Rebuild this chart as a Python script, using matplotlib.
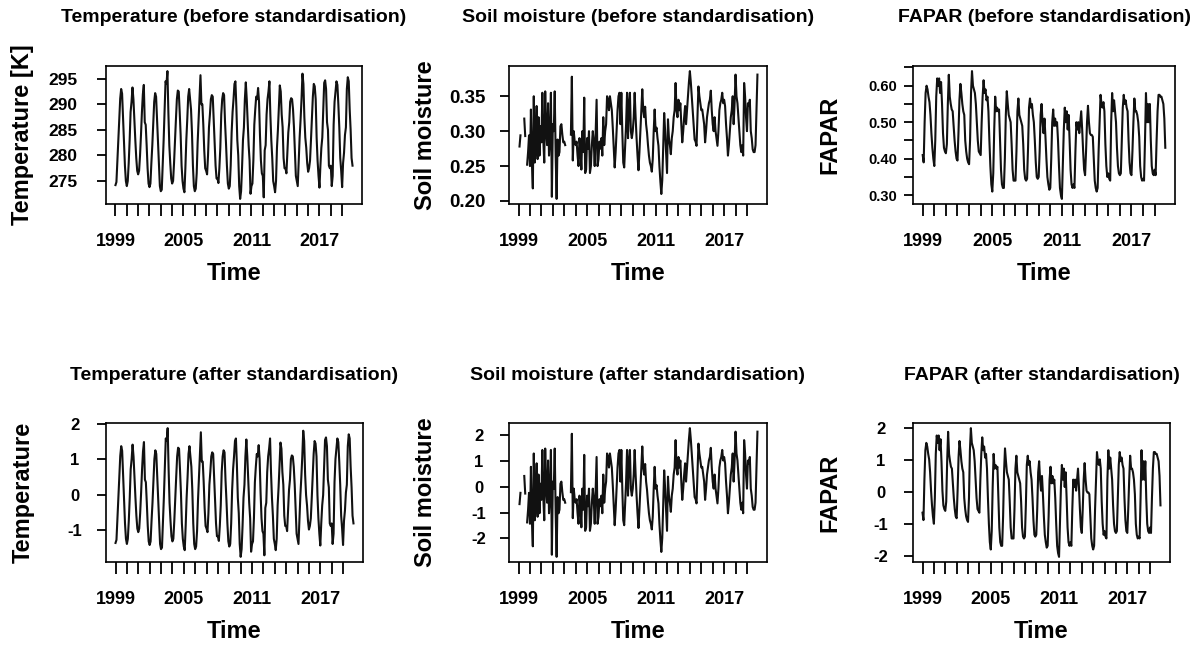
import numpy as np
import matplotlib
matplotlib.use("Agg")
import matplotlib.pyplot as plt

plt.rcParams['font.family'] = ['Liberation Sans', 'DejaVu Sans']
plt.rcParams['font.weight'] = 'bold'

##########################################################
# monthly values, Jan..Dec, one row per year 1999-2019
years = list(range(1999, 2020))
nan = np.nan

temperature = [
    [274.2, 274.8, 278.9, 282.7, 287.4, 291.1, 293.0, 292.1, 287.4, 282.7, 278.0, 275.0],
    [274.0, 275.0, 278.5, 283.0, 288.5, 290.5, 293.3, 291.0, 287.0, 283.0, 279.5, 277.0],
    [276.3, 277.0, 280.0, 284.0, 288.5, 292.0, 293.8, 286.5, 286.0, 282.0, 277.5, 274.5],
    [273.8, 274.5, 278.5, 282.0, 286.5, 290.5, 292.2, 291.5, 287.0, 282.0, 277.5, 274.0],
    [273.0, 273.3, 278.0, 283.0, 288.5, 294.5, 294.0, 296.5, 288.5, 282.0, 278.5, 275.5],
    [274.5, 275.0, 278.5, 283.0, 287.0, 291.0, 292.7, 292.5, 288.5, 284.0, 278.0, 275.0],
    [273.5, 272.8, 277.5, 283.0, 287.0, 291.5, 293.0, 291.0, 289.0, 284.5, 278.0, 274.0],
    [273.0, 273.5, 276.5, 282.5, 287.0, 292.0, 295.7, 290.0, 290.0, 286.0, 281.0, 277.5],
    [277.0, 276.3, 280.0, 285.5, 288.0, 291.0, 291.8, 291.5, 287.0, 282.5, 278.0, 275.5],
    [275.5, 274.6, 277.5, 281.5, 288.0, 291.0, 292.2, 291.8, 286.5, 282.5, 278.0, 274.5],
    [273.5, 274.0, 278.0, 284.5, 288.5, 291.0, 294.0, 294.5, 289.5, 283.0, 280.0, 274.0],
    [271.5, 273.0, 277.5, 283.0, 285.5, 291.0, 294.3, 291.0, 286.5, 282.0, 279.0, 272.5],
    [274.0, 274.5, 279.0, 286.0, 289.0, 291.5, 291.0, 293.2, 290.5, 284.0, 279.0, 276.5],
    [276.0, 271.8, 281.0, 282.0, 288.0, 291.0, 292.5, 294.5, 288.0, 283.0, 279.5, 275.0],
    [274.0, 272.8, 275.0, 281.5, 285.0, 289.5, 293.7, 292.5, 288.0, 285.5, 279.5, 277.5],
    [277.5, 276.5, 280.5, 284.5, 286.5, 290.5, 291.2, 291.0, 289.0, 285.5, 281.0, 276.0],
    [275.0, 274.0, 279.0, 283.5, 287.0, 291.0, 296.0, 294.0, 287.5, 283.5, 281.5, 278.5],
    [276.8, 277.5, 279.0, 283.0, 287.5, 291.5, 294.0, 293.5, 291.0, 283.5, 279.0, 276.0],
    [273.7, 278.0, 281.5, 283.5, 289.0, 294.2, 294.7, 293.0, 286.5, 285.0, 278.0, 277.5],
    [278.0, 274.0, 276.0, 286.0, 290.5, 292.5, 294.5, 293.8, 290.0, 285.5, 279.5, 277.0],
    [273.8, 278.5, 280.5, 284.0, 285.5, 293.0, 295.3, 294.5, 289.0, 285.0, 279.5, 278.0],
]

soil_moisture = [
    [nan, 0.278, 0.294, nan, nan, nan, 0.318, 0.293, nan, 0.252, 0.270, 0.294],
    [0.250, 0.331, 0.255, 0.218, 0.350, 0.255, 0.284, 0.336, 0.260, 0.320, 0.265, 0.307],
    [0.284, 0.355, 0.288, 0.255, 0.357, 0.300, 0.280, 0.340, 0.265, 0.290, 0.355, 0.206],
    [0.310, 0.300, 0.357, 0.265, 0.203, 0.288, 0.265, 0.270, 0.307, 0.310, 0.295, 0.284],
    [0.285, 0.280, nan, nan, nan, nan, nan, 0.295, 0.378, 0.258, 0.300, 0.285],
    [0.280, 0.285, 0.265, 0.250, 0.290, 0.275, 0.245, 0.300, 0.270, 0.348, 0.240, 0.245],
    [0.290, 0.275, 0.300, 0.240, 0.250, 0.280, 0.300, 0.285, 0.250, 0.300, 0.345, 0.250],
    [0.260, 0.285, 0.275, 0.290, 0.265, 0.320, 0.280, 0.300, 0.310, 0.350, 0.345, 0.330],
    [0.350, 0.340, 0.330, 0.305, 0.275, 0.248, 0.270, 0.300, 0.330, 0.350, 0.355, 0.310],
    [0.355, 0.300, 0.255, 0.248, 0.280, 0.310, 0.355, 0.290, 0.340, 0.355, 0.300, 0.290],
    [0.300, 0.320, 0.355, 0.320, 0.290, 0.265, 0.244, 0.270, 0.300, 0.330, 0.360, 0.330],
    [0.320, 0.335, 0.310, 0.298, 0.280, 0.265, 0.255, 0.250, 0.242, 0.260, 0.300, 0.331],
    [0.300, 0.305, 0.290, 0.279, 0.250, 0.228, 0.210, 0.230, 0.280, 0.326, 0.300, 0.270],
    [0.240, 0.317, 0.290, 0.280, 0.267, 0.290, 0.300, 0.320, 0.330, 0.369, 0.330, 0.320],
    [0.345, 0.330, 0.340, 0.310, 0.284, 0.300, 0.320, 0.336, 0.310, 0.330, 0.350, 0.370],
    [0.386, 0.370, 0.350, 0.330, 0.310, 0.288, 0.285, 0.279, 0.320, 0.364, 0.350, 0.340],
    [0.330, 0.331, 0.320, 0.310, 0.284, 0.300, 0.320, 0.330, 0.340, 0.345, 0.358, 0.330],
    [0.310, 0.300, 0.320, 0.300, 0.290, 0.279, 0.300, 0.330, 0.340, 0.345, 0.355, 0.340],
    [0.345, 0.336, 0.310, 0.290, 0.265, 0.280, 0.300, 0.320, 0.330, 0.350, 0.310, 0.340],
    [0.381, 0.350, 0.340, 0.320, 0.300, 0.280, 0.270, 0.280, 0.265, 0.369, 0.350, 0.320],
    [0.300, 0.340, 0.336, 0.345, 0.300, 0.290, 0.274, 0.270, 0.270, 0.280, 0.330, 0.381],
]

fapar = [
    [0.410, 0.390, 0.500, 0.580, 0.600, 0.590, 0.570, 0.555, 0.520, 0.470, 0.430, 0.400],
    [0.380, 0.450, 0.570, 0.620, 0.600, 0.620, 0.580, 0.610, 0.550, 0.470, 0.430, 0.420],
    [0.415, 0.440, 0.550, 0.630, 0.570, 0.550, 0.535, 0.530, 0.490, 0.450, 0.420, 0.400],
    [0.395, 0.470, 0.560, 0.605, 0.580, 0.550, 0.530, 0.520, 0.450, 0.420, 0.400, 0.390],
    [0.385, 0.450, 0.580, 0.640, 0.600, 0.590, 0.580, 0.550, 0.500, 0.450, 0.420, 0.415],
    [0.410, 0.500, 0.570, 0.615, 0.580, 0.590, 0.560, 0.570, 0.530, 0.450, 0.380, 0.330],
    [0.310, 0.360, 0.480, 0.570, 0.530, 0.540, 0.530, 0.535, 0.450, 0.370, 0.330, 0.320],
    [0.320, 0.400, 0.520, 0.585, 0.550, 0.520, 0.510, 0.500, 0.440, 0.370, 0.340, 0.340],
    [0.340, 0.420, 0.530, 0.565, 0.520, 0.510, 0.500, 0.490, 0.440, 0.370, 0.345, 0.340],
    [0.345, 0.430, 0.540, 0.565, 0.540, 0.550, 0.520, 0.500, 0.450, 0.390, 0.350, 0.345],
    [0.350, 0.420, 0.520, 0.550, 0.500, 0.470, 0.510, 0.460, 0.400, 0.350, 0.330, 0.315],
    [0.320, 0.400, 0.500, 0.535, 0.490, 0.510, 0.490, 0.500, 0.450, 0.380, 0.320, 0.300],
    [0.290, 0.380, 0.480, 0.540, 0.500, 0.530, 0.480, 0.520, 0.450, 0.370, 0.330, 0.320],
    [0.330, 0.320, 0.420, 0.500, 0.480, 0.500, 0.470, 0.500, 0.530, 0.480, 0.420, 0.370],
    [0.355, 0.420, 0.500, 0.545, 0.500, 0.470, 0.465, 0.465, 0.460, 0.400, 0.340, 0.320],
    [0.310, 0.320, 0.420, 0.500, 0.575, 0.550, 0.540, 0.555, 0.530, 0.440, 0.380, 0.350],
    [0.360, 0.345, 0.340, 0.500, 0.580, 0.530, 0.560, 0.530, 0.500, 0.430, 0.380, 0.360],
    [0.355, 0.360, 0.450, 0.540, 0.575, 0.550, 0.560, 0.540, 0.530, 0.450, 0.390, 0.360],
    [0.355, 0.420, 0.500, 0.565, 0.530, 0.530, 0.520, 0.500, 0.460, 0.380, 0.350, 0.340],
    [0.345, 0.340, 0.450, 0.580, 0.500, 0.550, 0.500, 0.550, 0.450, 0.380, 0.360, 0.355],
    [0.370, 0.355, 0.450, 0.530, 0.575, 0.575, 0.570, 0.570, 0.560, 0.550, 0.510, 0.430],
]
##########################################################
temp = np.array(temperature, dtype=float).ravel()
soil = np.array(soil_moisture, dtype=float).ravel()
fap = np.array(fapar, dtype=float).ravel()
time = years[0] + np.arange(len(temp)) / 12.0


def standardise(x):
    return (x - np.nanmean(x)) / np.nanstd(x, ddof=1)


W, H = 1197, 645
fig = plt.figure(figsize=(W / 100, H / 100), dpi=100)

# (x0, y0, x1, y1) of every plot box in pixels
boxes = [(106, 66, 362, 204), (509, 66, 767, 204), (913, 66, 1175, 204),
         (106, 423, 363, 562), (509, 423, 767, 562), (913, 423, 1170, 562)]
# y tick label size (pt) and distance of label centre from box (px), per panel
ytick_style = [(12.5, 43), (13.5, 42), (10.5, 30), (12, 31), (12, 30), (12, 32)]

panels = [
    (temp, "Temperature (before standardisation)", "Temperature [K]",
     [275, 280, 285, 290, 295], [275, 280, 285, 290, 295]),
    (soil, "Soil moisture (before standardisation)", "Soil moisture",
     [0.20, 0.25, 0.30, 0.35], [0.20, 0.25, 0.30, 0.35]),
    (fap, "FAPAR (before standardisation)", "FAPAR",
     [0.30, 0.35, 0.40, 0.45, 0.50, 0.55, 0.60, 0.65], [0.30, 0.40, 0.50, 0.60]),
    (standardise(temp), "Temperature (after standardisation)", "Temperature",
     [-1, 0, 1, 2], [-1, 0, 1, 2]),
    (standardise(soil), "Soil moisture (after standardisation)", "Soil moisture",
     [-2, -1, 0, 1, 2], [-2, -1, 0, 1, 2]),
    (standardise(fap), "FAPAR (after standardisation)", "FAPAR",
     [-2, -1, 0, 1, 2], [-2, -1, 0, 1, 2]),
]

ytick_len = 9  # px
for (x0, y0, x1, y1), (ysize, ydist), (vals, title, ylab, yt, ylab_at) in zip(boxes, ytick_style, panels):
    ax = fig.add_axes([x0 / W, 1 - y1 / H, (x1 - x0) / W, (y1 - y0) / H])
    ax.plot(time, vals, color='#111111', lw=1.5)

    # R style 4% padding
    tr = time[-1] - time[0]
    ax.set_xlim(time[0] - 0.04 * tr, time[-1] + 0.04 * tr)
    lo, hi = np.nanmin(vals), np.nanmax(vals)
    ax.set_ylim(lo - 0.04 * (hi - lo), hi + 0.04 * (hi - lo))

    ax.set_xticks(years)
    ax.set_xticklabels([str(y) if (y - years[0]) % 6 == 0 else '' for y in years])
    ax.set_yticks(yt)
    if isinstance(yt[0], float):
        ax.set_yticklabels(['%.2f' % v if any(abs(v - a) < 1e-9 for a in ylab_at) else '' for v in yt])
    else:
        ax.set_yticklabels([str(v) for v in yt])

    ax.tick_params(axis='x', direction='out', length=8.6, width=1.3, pad=12, labelsize=13)
    ax.tick_params(axis='y', direction='out', length=ytick_len * 0.72, width=1.3,
                   pad=(ydist - ytick_len) * 0.72, labelsize=ysize)
    for lab in ax.get_xticklabels():
        lab.set_fontweight('bold')
    for lab in ax.get_yticklabels():
        lab.set_fontweight('bold')
        lab.set_horizontalalignment('center')
    for s in ax.spines.values():
        s.set_linewidth(1.2)

    cx = (x0 + x1) / 2
    cy = (y0 + y1) / 2
    fig.text(cx / W, 1 - (18 if y0 < 300 else 375) / H, title,
             ha='center', va='center', fontsize=14, fontweight='bold')
    fig.text(cx / W, 1 - (y1 + 70) / H, "Time",
             ha='center', va='center', fontsize=17, fontweight='bold')
    fig.text((x0 - 83) / W, 1 - cy / H, ylab, rotation=90,
             ha='center', va='center', fontsize=17, fontweight='bold')

fig.savefig("out.png", dpi=100)
